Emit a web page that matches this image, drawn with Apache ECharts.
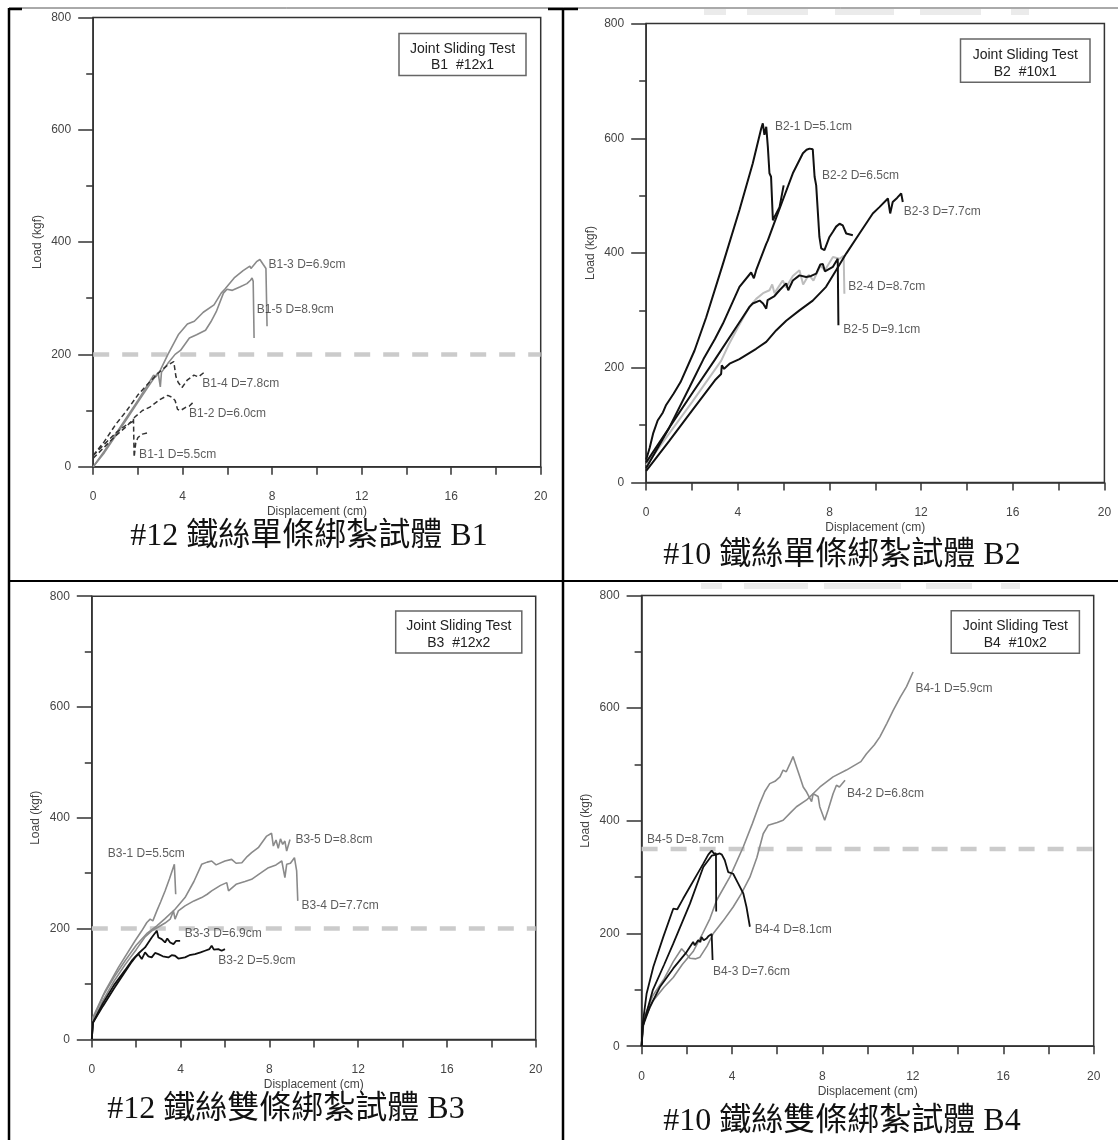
<!DOCTYPE html>
<html><head><meta charset="utf-8">
<script src="https://cdn.jsdelivr.net/npm/echarts/dist/echarts.min.js"></script>
<style>html,body{margin:0;padding:0;background:#fff}#c{width:1118px;height:1140px}</style>
</head><body><div id="c"></div><script>
// ---------------- data (displacement cm, load kgf) ----------------
const B1_1 = [[0,15],[0.5,35],[1,55],[1.5,72],[1.8,85],[1.83,17],[1.9,42],[2.0,52],[2.2,58],[2.5,61]];
const B1_2 = [[0,20],[0.5,40],[1,60],[1.5,75],[1.75,80],[1.85,88],[2.2,100],[2.53,106],[3.0,120],[3.33,127],[3.5,124],[3.66,118],[3.77,102],[3.9,100],[4.15,106],[4.3,108],[4.5,116]];
const B1_3 = [[0,0],[0.5,28],[1,58],[1.5,88],[2,118],[2.5,150],[2.7,163],[2.8,160],[3.0,172],[3.34,200],[3.82,236],[4.21,254],[4.52,259],[4.92,275],[5.4,288],[5.72,309],[5.88,316],[6.3,336],[6.7,349],[7.0,357],[7.05,353],[7.3,365],[7.45,369],[7.6,360],[7.72,353],[7.77,250]];
const B1_4 = [[0,20],[0.5,45],[1,75],[1.5,100],[2,128],[2.5,150],[3,170],[3.3,180],[3.6,187],[3.66,186],[3.7,160],[3.8,150],[3.97,141],[4.2,154],[4.5,163],[4.7,160],[4.96,168]];
const B1_5 = [[0,0],[0.5,25],[1,55],[1.5,85],[2,115],[2.5,145],[2.9,168],[3.0,142],[3.05,168],[3.34,184],[3.66,200],[3.9,207],[4.3,229],[4.62,235],[5.02,243],[5.26,258],[5.5,276],[5.82,309],[5.98,316],[6.22,314],[6.55,320],[6.87,326],[7.03,332],[7.1,336],[7.15,330],[7.19,229]];
const B1_LABELS = [[7.81,360,'B1-3 D=6.9cm'],[7.29,280,'B1-5 D=8.9cm'],[4.85,148,'B1-4 D=7.8cm'],[4.26,95,'B1-2 D=6.0cm'],[2.03,22,'B1-1 D=5.5cm']];

const B2_1 = [[0,40],[0.15,60],[0.3,85],[0.5,108],[0.73,122],[0.87,135],[1.2,155],[1.5,175],[2.11,230],[2.62,288],[3.35,381],[4.07,475],[4.65,556],[5.02,617],[5.09,626],[5.16,606],[5.24,620],[5.31,585],[5.38,539],[5.45,533],[5.53,457],[5.6,463],[5.82,480],[6.0,518]];
const B2_2 = [[0,25],[1,95],[1.89,166],[2.5,215],[3.0,250],[3.35,277],[4.07,341],[4.58,366],[4.7,356],[4.8,370],[5.24,416],[5.31,422],[5.53,446],[5.96,492],[6.4,539],[6.84,574],[7.0,580],[7.13,582],[7.27,581],[7.35,533],[7.42,518],[7.49,515],[7.56,428],[7.64,408],[7.78,405],[8.0,428],[8.15,437],[8.29,446],[8.44,451],[8.58,448],[8.73,434],[9.02,431]];
const B2_3 = [[0,20],[1,72],[2,125],[3.0,178],[3.27,189],[3.3,204],[3.4,198],[3.64,207],[4.07,215],[4.8,233],[5.24,245],[5.67,265],[6.11,282],[6.69,300],[7.27,317],[7.85,341],[8.29,370],[8.73,399],[9.31,434],[9.89,469],[10.18,480],[10.55,495],[10.65,469],[10.76,489],[10.95,496],[11.13,504],[11.2,489]];
const B2_4 = [[0,30],[1,85],[2,140],[3.27,212],[3.6,240],[4.0,270],[4.5,306],[4.8,320],[5.1,330],[5.38,335],[5.5,345],[5.6,330],[5.96,352],[6.1,340],[6.4,360],[6.69,370],[6.85,345],[7.1,362],[7.3,352],[7.6,378],[7.8,370],[8.15,393],[8.44,390],[8.62,395],[8.65,329]];
const B2_5 = [[0,35],[1,95],[2,155],[3,214],[4,275],[4.51,306],[4.65,312],[4.95,317],[5.1,312],[5.24,303],[5.3,318],[5.6,325],[5.82,335],[6.11,347],[6.2,335],[6.4,352],[6.69,361],[6.98,358],[7.2,360],[7.42,364],[7.6,380],[7.71,381],[7.8,368],[8.15,376],[8.36,390],[8.39,274]];
const B2_LABELS = [[5.6,621,'B2-1 D=5.1cm'],[7.65,535,'B2-2 D=6.5cm'],[11.22,472,'B2-3 D=7.7cm'],[8.8,341,'B2-4 D=8.7cm'],[8.58,267,'B2-5 D=9.1cm']];

const B3_1 = [[0,0],[0.05,40],[0.6,87],[1.2,130],[1.95,178],[2.25,196],[2.48,211],[2.63,217],[2.75,214],[2.93,232],[3.1,248],[3.3,268],[3.5,290],[3.72,316],[3.78,262]];
const B3_2 = [[0,0],[0.05,30],[0.5,60],[1.0,92],[1.5,122],[1.8,140],[1.95,148],[2.1,154],[2.25,145],[2.4,157],[2.55,150],[2.7,148],[2.85,156],[3.0,154],[3.2,150],[3.45,148],[3.6,152],[3.75,151],[3.9,146],[4.2,148],[4.4,152],[4.65,154],[4.9,157],[5.1,160],[5.3,163],[5.4,169],[5.5,162],[5.7,163],[5.85,160],[6.0,163]];
const B3_3 = [[0,0],[0.05,30],[0.5,65],[1.0,98],[1.5,125],[1.8,142],[2.1,155],[2.4,166],[2.7,184],[2.93,196],[3.0,184],[3.15,181],[3.3,175],[3.4,182],[3.53,175],[3.68,172],[3.8,178],[3.98,178]];
const B3_4 = [[0,0],[0.05,30],[0.5,70],[1.0,105],[1.5,135],[2.0,162],[2.4,185],[2.7,196],[3.0,203],[3.3,210],[3.53,217],[3.68,232],[3.75,217],[3.9,232],[4.2,241],[4.6,250],[4.95,256],[5.2,262],[5.4,268],[5.8,278],[6.08,283],[6.16,268],[6.5,280],[6.9,285],[7.2,289],[7.6,300],[7.96,310],[8.3,315],[8.56,322],[8.7,292],[8.78,316],[8.95,318],[9.13,328],[9.23,304],[9.28,250]];
const B3_5 = [[0,0],[0.05,35],[0.5,78],[1.0,112],[1.5,142],[2.0,170],[2.5,192],[2.93,205],[3.3,218],[3.75,235],[4.2,256],[4.6,285],[4.95,316],[5.2,320],[5.4,322],[5.6,315],[6.0,322],[6.3,325],[6.5,318],[6.76,319],[7.0,330],[7.2,337],[7.5,346],[7.88,367],[8.1,372],[8.18,349],[8.3,360],[8.4,345],[8.5,362],[8.6,352],[8.7,358],[8.78,340],[8.93,361]];
const B3_LABELS = [[0.7,335,'B3-1 D=5.5cm'],[9.15,360,'B3-5 D=8.8cm'],[9.43,242,'B3-4 D=7.7cm'],[4.16,191,'B3-3 D=6.9cm'],[5.68,142,'B3-2 D=5.9cm']];

const B4_1 = [[0,0],[0.1,50],[0.5,90],[1.0,120],[1.4,150],[1.77,173],[1.95,165],[2.14,156],[2.4,155],[2.58,158],[2.9,178],[3.17,200],[3.6,222],[4.05,247],[4.4,270],[4.79,300],[5.1,335],[5.38,377],[5.6,392],[6.0,397],[6.26,401],[6.6,415],[6.85,425],[7.3,437],[7.89,460],[8.47,478],[9.06,490],[9.36,497],[9.7,505],[9.95,519],[10.3,535],[10.54,549],[10.85,573],[11.13,596],[11.45,620],[11.72,638],[12.01,664]];
const B4_2 = [[0,0],[0.1,45],[0.5,80],[1.0,105],[1.4,122],[1.8,145],[2.28,168],[2.7,200],[3.02,226],[3.32,259],[3.9,300],[4.5,354],[4.9,395],[5.23,431],[5.45,452],[5.67,466],[5.9,470],[6.12,478],[6.26,490],[6.4,487],[6.55,500],[6.7,514],[6.85,496],[7.0,478],[7.15,460],[7.3,451],[7.52,434],[7.59,448],[7.81,443],[7.88,425],[8.1,401],[8.25,419],[8.47,448],[8.62,463],[8.75,460],[9.0,472]];
const B4_3 = [[0,0],[0.05,35],[0.37,70],[0.81,105],[1.4,138],[1.99,167],[2.28,185],[2.35,179],[2.5,188],[2.6,185],[2.65,194],[2.75,188],[2.87,191],[2.95,195],[3.02,197],[3.1,199],[3.14,153]];
const B4_4 = [[0,0],[0.05,35],[0.5,100],[1.0,145],[1.4,182],[2.14,253],[2.73,318],[3.1,338],[3.3,340],[3.46,342],[3.55,340],[3.68,330],[3.83,309],[4.05,306],[4.27,289],[4.5,271],[4.64,247],[4.79,212]];
const B4_5 = [[0,0],[0.05,40],[0.22,93],[0.52,141],[0.96,194],[1.4,244],[1.47,247],[1.58,243],[1.84,262],[2.14,283],[2.5,308],[2.73,324],[2.95,340],[3.1,347],[3.2,342],[3.29,342],[3.3,239]];
const B4_LABELS = [[12.09,635,'B4-1 D=5.9cm'],[9.06,449,'B4-2 D=6.8cm'],[0.22,366,'B4-5 D=8.7cm'],[4.98,206,'B4-4 D=8.1cm'],[3.14,133,'B4-3 D=7.6cm']];

const THRESHOLDS = [200, null, 200, 350];
const BOX_TEXT = [['Joint Sliding Test','B1  #12x1'],['Joint Sliding Test','B2  #10x1'],['Joint Sliding Test','B3  #12x2'],['Joint Sliding Test','B4  #10x2']];
const CAPTIONS = ['#12 鐵絲單條綁紮試體 B1','#10 鐵絲單條綁紮試體 B2','#12 鐵絲雙條綁紮試體 B3','#10 鐵絲雙條綁紮試體 B4'];
const X_NAME = 'Displacement (cm)', Y_NAME = 'Load (kgf)';

// ---------------- layout / style ----------------
const SANS = '"Liberation Sans", Arial, sans-serif';
const GRIDS = [
  {left:93.2, top:17.4, width:447.5, height:449.3},
  {left:646.2, top:23.6, width:458.2, height:458.8},
  {left:91.8, top:596.2, width:443.9, height:443.2},
  {left:641.6, top:595.4, width:452.1, height:450.8}
];
const GRAY = {color:'#8a8a8a', width:1.6};
const BLACK = {color:'#111', width:2};
const DASHED = {color:'#333', width:1.5, type:[5,3]};
const LIGHT = {color:'#bdbdbd', width:2};

const panels = [
  [[B1_3,GRAY],[B1_5,GRAY],[B1_1,DASHED],[B1_2,DASHED],[B1_4,DASHED]],
  [[B2_4,LIGHT],[B2_1,BLACK],[B2_2,BLACK],[B2_3,BLACK],[B2_5,BLACK]],
  [[B3_1,GRAY],[B3_4,GRAY],[B3_5,GRAY],[B3_2,{color:'#111',width:1.8}],[B3_3,{color:'#111',width:1.8}]],
  [[B4_1,GRAY],[B4_2,GRAY],[B4_3,{color:'#111',width:1.8}],[B4_4,{color:'#111',width:1.8}],[B4_5,{color:'#111',width:1.8}]]
];
const LABELS = [B1_LABELS,B2_LABELS,B3_LABELS,B4_LABELS];

const axisLine = {show:true, onZero:false, lineStyle:{color:'#333', width:1.5}};
const grid = GRIDS.map(g => Object.assign({show:true, borderColor:'#333', borderWidth:1.5, backgroundColor:'transparent', containLabel:false, outerBoundsMode:'none'}, g));
const xAxis = GRIDS.map((g,i) => ({
  type:'value', gridIndex:i, min:0, max:20, interval:4,
  axisLine, splitLine:{show:false},
  axisTick:{show:true, inside:false, length:8, lineStyle:{color:'#333', width:1.5}},
  minorTick:{show:true, splitNumber:2, length:8, lineStyle:{color:'#333', width:1.5}},
  axisLabel:{fontSize:12, color:'#444', margin:24, fontFamily:SANS, hideOverlap:false},
  name:X_NAME, nameLocation:'middle', nameGap:39,
  nameTextStyle:{fontSize:12, color:'#444', fontFamily:SANS}
}));
const yAxis = GRIDS.map((g,i) => ({
  type:'value', gridIndex:i, min:0, max:800, interval:200,
  axisLine, splitLine:{show:false},
  axisTick:{show:true, inside:false, length:15, lineStyle:{color:'#333', width:1.5}},
  minorTick:{show:true, splitNumber:2, length:7, lineStyle:{color:'#333', width:1.5}},
  axisLabel:{fontSize:12, color:'#444', margin:22, fontFamily:SANS, hideOverlap:false},
  name:Y_NAME, nameLocation:'middle', nameGap:50, nameRotate:90,
  nameTextStyle:{fontSize:12, color:'#444', fontFamily:SANS}
}));

const series = [];
THRESHOLDS.forEach((t,i) => {
  if (t == null) return;
  series.push({type:'line', xAxisIndex:i, yAxisIndex:i, data:[[0,t],[20,t]], symbol:'none', silent:true, z:1,
    lineStyle:{color:'#cbcbcb', width:4.5, type:[16,13]}});
});
panels.forEach((p,i) => p.forEach(([d,st],k) => {
  series.push({type:'line', xAxisIndex:i, yAxisIndex:i, data:d, symbol:'none', silent:true, z:2+k*0.01, lineStyle:st});
}));
LABELS.forEach((labs,i) => {
  series.push({type:'scatter', xAxisIndex:i, yAxisIndex:i, symbolSize:1, silent:true, z:5,
    itemStyle:{color:'rgba(0,0,0,0)'},
    data:labs.map(l => ({value:[l[0],l[1]], name:l[2]})),
    label:{show:true, position:'right', distance:0, formatter:'{b}', fontSize:12, color:'#333', fontFamily:SANS}});
});

// graphic: legend boxes, captions, table frame
const BOXES = [
  {x:399, y:33.4, w:127, h:42.2},
  {x:960.5, y:38.9, w:129.5, h:43.3},
  {x:395.7, y:611, w:126.1, h:41.9},
  {x:951.2, y:610.7, w:128.2, h:42.5}
];
const CAP_POS = [[309,537],[842,556],[286,1110],[842,1122]];
const graphic = [];
BOXES.forEach((b,i) => {
  graphic.push({type:'rect', shape:{x:b.x, y:b.y, width:b.w, height:b.h}, style:{fill:'#fff', stroke:'#666', lineWidth:1.5}, z:10});
  graphic.push({type:'text', x:b.x+b.w/2, y:b.y+b.h*0.37, style:{text:BOX_TEXT[i][0], font:'14px '+SANS, fill:'#222', textAlign:'center', textVerticalAlign:'middle'}, z:11});
  graphic.push({type:'text', x:b.x+b.w/2, y:b.y+b.h*0.76, style:{text:BOX_TEXT[i][1], font:'14px '+SANS, fill:'#222', textAlign:'center', textVerticalAlign:'middle'}, z:11});
});
CAPTIONS.forEach((c,i) => {
  graphic.push({type:'text', x:CAP_POS[i][0], y:CAP_POS[i][1], style:{text:c, font:'32px "Liberation Serif", "Times New Roman", "Noto Sans CJK TC", serif', fill:'#111', textAlign:'center', textVerticalAlign:'middle'}, z:11});
});
// faint watermark ghosts
[[704,9,22,6],[747,9,61,6],[835,9,59,6],[920,9,61,6],[1011,9,18,6],
 [701,583,21,6],[744,583,64,6],[824,583,77,6],[926,583,46,6],[1001,583,19,6]].forEach(r => {
  graphic.push({type:'rect', shape:{x:r[0], y:r[1], width:r[2], height:r[3]}, style:{fill:'#ebebeb'}, z:0});
});
// table frame
[[9,8,1118,8,1,'#555'],[9,9,22,9,2.5,'#000'],[548,9,578,9,2.5,'#000'],
 [9,8,9,1140,2.5,'#000'],[563,8,563,1140,2.5,'#000'],[9,581,1118,581,2,'#000']].forEach(l => {
  graphic.push({type:'line', shape:{x1:l[0], y1:l[1], x2:l[2], y2:l[3]}, style:{stroke:l[5], lineWidth:l[4]}, z:12});
});

const chart = echarts.init(document.getElementById('c'), null, {renderer:'canvas'});
chart.setOption({animation:false, backgroundColor:'#fff', grid, xAxis, yAxis, series, graphic});
</script></body></html>
